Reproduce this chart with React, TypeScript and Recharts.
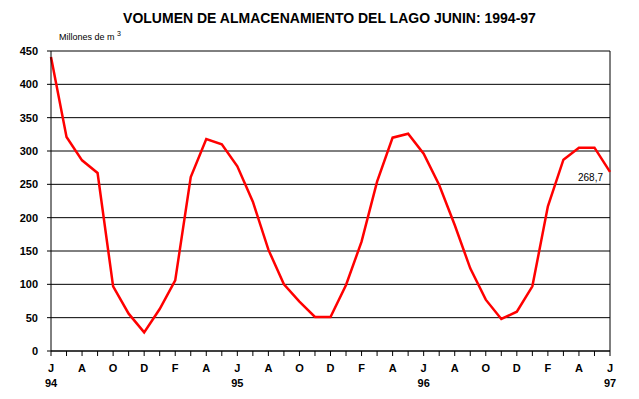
import { LineChart, Line, XAxis, YAxis, CartesianGrid, ReferenceLine } from "recharts";

// volumen mensual, junio 1994 - junio 1997 (millones de m3)
const volumen = [
  441, 321, 286, 267, 97, 56, 28, 63, 106, 261, 318, 310,
  277, 224, 152, 100, 74, 51, 51, 99, 164, 254, 320, 326,
  296, 249, 189, 124, 77, 48, 59, 97, 217, 287, 305, 305,
  268.7,
];

const mesLetras = [
  "J", "", "A", "", "O", "", "D", "", "F", "", "A", "",
  "J", "", "A", "", "O", "", "D", "", "F", "", "A", "",
  "J", "", "A", "", "O", "", "D", "", "F", "", "A", "",
  "J",
];

const anios: Record<number, string> = { 0: "94", 12: "95", 24: "96", 36: "97" };

const yTicks = [0, 50, 100, 150, 200, 250, 300, 350, 400, 450];

const data = volumen.map((v, i) => ({ idx: i, vol: v }));
const xTicks = data.map((d) => d.idx);

const FONT = "Arial, 'Liberation Sans', sans-serif";

function MesTick(props: any) {
  const { x, y, payload } = props;
  const i = payload.value as number;
  return (
    <g>
      <text x={x} y={y + 14} textAnchor="middle" fontSize={11} fontWeight="bold" fontFamily={FONT} fill="#000">
        {mesLetras[i]}
      </text>
      {anios[i] && (
        <text x={x} y={y + 29} textAnchor="middle" fontSize={11} fontWeight="bold" fontFamily={FONT} fill="#000">
          {anios[i]}
        </text>
      )}
    </g>
  );
}

function UltimoValor(props: any) {
  const { x, y, index } = props;
  if (index !== volumen.length - 1) return null;
  return (
    <text x={x - 7} y={y + 9} textAnchor="end" fontSize={10} fontFamily={FONT} fill="#000">
      {String(volumen[index]).replace(".", ",")}
    </text>
  );
}

export default function App() {
  return (
    <div style={{ position: "absolute", left: 0, top: 0, width: 639, height: 399, background: "#fff", fontFamily: FONT }}>
      <div
        style={{
          position: "absolute", left: 0, top: 10, width: 659, textAlign: "center",
          fontSize: 14, fontWeight: "bold", color: "#000",
        }}
      >
        VOLUMEN DE ALMACENAMIENTO DEL LAGO JUNIN: 1994-97
      </div>
      <div style={{ position: "absolute", left: 59, top: 30, fontSize: 9, color: "#000" }}>
        Millones de m <sup style={{ fontSize: 7 }}>3</sup>
      </div>
      <LineChart width={639} height={399} data={data} margin={{ top: 51, right: 29, bottom: 0, left: 0 }}>
        <CartesianGrid vertical={false} stroke="#000" strokeWidth={1} />
        <XAxis
          dataKey="idx"
          type="number"
          domain={[0, 36]}
          ticks={xTicks}
          interval={0}
          height={48}
          tickSize={5}
          tickMargin={2}
          stroke="#000"
          tickLine={{ stroke: "#000" }}
          tick={<MesTick />}
        />
        <YAxis
          domain={[0, 450]}
          ticks={yTicks}
          width={51}
          tickSize={4}
          tickMargin={9}
          stroke="#000"
          tickLine={{ stroke: "#000" }}
          tick={{ fill: "#000", fontSize: 11, fontWeight: "bold", fontFamily: FONT }}
        />
        <ReferenceLine x={36} stroke="#000" />
        <Line
          dataKey="vol"
          type="linear"
          stroke="#ff0000"
          strokeWidth={2.5}
          dot={false}
          isAnimationActive={false}
          label={<UltimoValor />}
        />
      </LineChart>
    </div>
  );
}
